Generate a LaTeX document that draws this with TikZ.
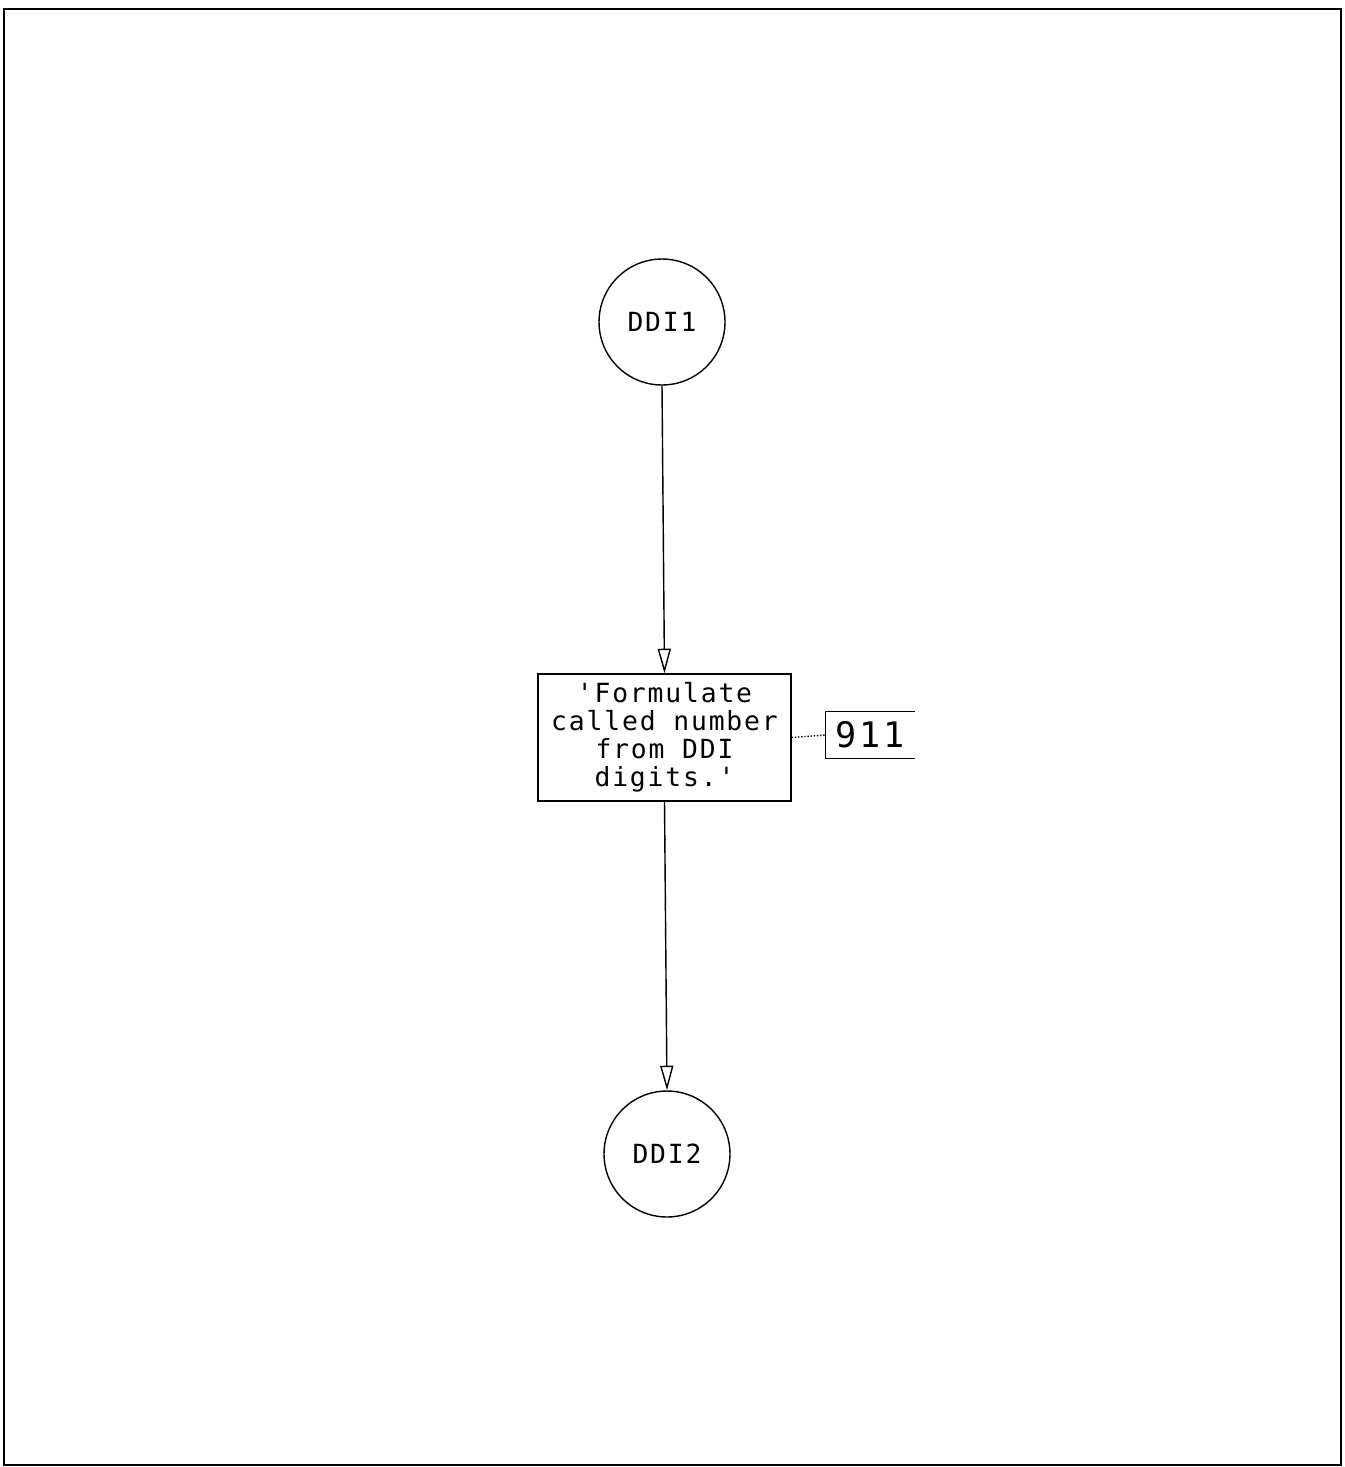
\documentclass[tikz,border=0pt]{standalone}
\usepackage{fontspec}
\newfontfamily\plotfont[LetterSpace=7]{DejaVu Sans Mono}
\usetikzlibrary{arrows.meta}

\begin{document}
\begin{tikzpicture}[x=0.02cm, y=-0.02cm, line width=0.8pt,
        >={Triangle[open,length=14pt,width=7.5pt]},
        every node/.style={font=\plotfont\fontsize{15}{16}\selectfont},
        state/.style={draw, circle, minimum size=2.52cm, inner sep=0pt},
        taskbox/.style={draw, rectangle, minimum width=5.06cm, minimum height=2.54cm,
            inner sep=0pt, align=center},
        numbox/.style={minimum width=1.76cm, minimum height=0.92cm, inner sep=0pt,
            font=\plotfont\fontsize{20}{22}\selectfont}]
        \useasboundingbox (0,0) rectangle (1345,1467);
        \draw[line width=1.6pt] (4,9) rectangle (1341,1465);

        \node[state] (DDI1) at (662,322) {DDI1};
        \node[taskbox] (formulate) at (664.5,737.5)
            {'Formulate\\called number\\from DDI\\digits.'};
        \node[numbox] (num) at (870,735) {911};
        \node[state] (DDI2) at (667,1154) {DDI2};

        \draw[->] (DDI1.south) -- (formulate.north);
        \draw[->] (formulate.south) -- (DDI2.north);
        \draw[densely dotted] (formulate.east) -- (num.west);
        \draw (num.north east) -- (num.north west) -- (num.south west) -- (num.south east);

    \end{tikzpicture}
\end{document}
